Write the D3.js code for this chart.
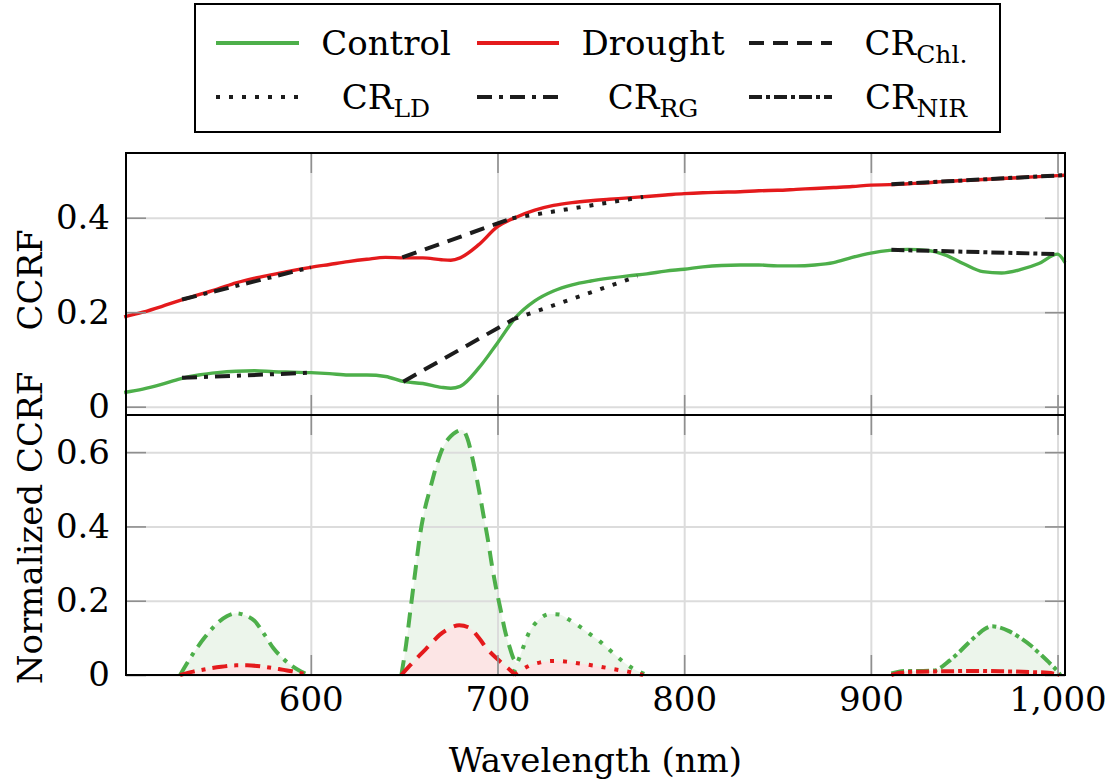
<!DOCTYPE html>
<html>
<head>
<meta charset="utf-8">
<script src="https://cdn.jsdelivr.net/npm/d3@7"></script>
<style>
  body { margin: 0; background: #fff; }
</style>
</head>
<body>
<div id="chart"></div>
<script>

// ---- values ----
let wavelengths = [500,510,520,530,540,550,560,570,580,590,600,610,620,630,640,650,660,670,675,680,
  690,700,710,720,730,740,750,760,770,780,790,800,810,820,830,840,850,860,870,880,890,900,
  910,920,930,940,950,960,970,980,990,1000,1004]

let control = [0.030,0.037,0.047,0.059,0.067,0.072,0.075,0.076,0.074,0.073,0.072,0.070,0.067,0.067,0.064,0.053,0.049,0.041,0.039,0.043,
  0.082,0.135,0.190,0.224,0.245,0.258,0.266,0.272,0.277,0.281,0.287,0.291,0.296,0.299,0.300,0.300,0.298,0.298,0.300,0.305,0.316,0.325,
  0.331,0.333,0.331,0.321,0.302,0.286,0.283,0.290,0.303,0.323,0.305]

let drought = [0.190,0.200,0.212,0.225,0.237,0.249,0.262,0.272,0.280,0.288,0.295,0.301,0.307,0.312,0.316,0.315,0.315,0.311,0.310,0.315,
  0.343,0.381,0.401,0.416,0.426,0.432,0.436,0.439,0.442,0.445,0.448,0.451,0.453,0.454,0.455,0.457,0.458,0.460,0.462,0.464,0.466,0.469,
  0.470,0.472,0.474,0.477,0.479,0.481,0.483,0.485,0.487,0.489,0.490]

// continuum hull segments, one per band
let bands = ["RG", "Chl", "LD", "NIR"]
let controlHullNm = [[531, 600], [649.5, 709], [709, 775], [911, 1000]]
let controlHullVal = [[0.061, 0.072], [0.053, 0.186], [0.186, 0.276], [0.332, 0.323]]
let droughtHullNm = [[531, 600], [649, 708], [708, 778], [911, 1003]]
let droughtHullVal = [[0.227, 0.295], [0.316, 0.399], [0.399, 0.444], [0.471, 0.490]]

// normalized CCRF per band [nm, value]
let normControlRG = [[530,0],[537,0.058],[543,0.100],[549,0.135],[555,0.158],[560,0.166],[565,0.160],[570,0.145],[575,0.110],[580,0.072],[585,0.045],[590,0.024],[595,0.009],[599,0]]
let normDroughtRG = [[530,0],[537,0.009],[544,0.016],[552,0.022],[560,0.026],[566,0.026],[575,0.022],[583,0.016],[590,0.010],[599,0]]
let normControlChl = [[648.5,0],[651,0.080],[653,0.160],[656,0.280],[658.5,0.377],[661,0.445],[664,0.503],[668,0.575],[671,0.615],[675,0.643],[678,0.655],[681,0.660],[684,0.635],[687,0.574],[690,0.500],[692.5,0.430],[695,0.360],[697,0.296],[699,0.240],[701.5,0.180],[704,0.120],[706.5,0.075],[708.5,0.045],[711,0.030]]
let normDroughtChl = [[648.5,0],[653,0.025],[658.5,0.054],[664,0.082],[669,0.108],[674.5,0.126],[679.5,0.134],[685,0.127],[690,0.100],[694,0.073],[699.5,0.045],[704,0.025],[707,0.012],[709.5,0]]
let normControlLD = [[708.5,0.005],[712,0.050],[717,0.115],[722,0.148],[728,0.164],[733,0.163],[738,0.150],[743,0.134],[749,0.112],[755,0.090],[761,0.063],[767,0.037],[773,0.016],[780,0]]
let normDroughtLD = [[709,0],[713,0.014],[717,0.025],[723,0.034],[730,0.038],[737,0.036],[744,0.031],[752,0.025],[762,0.016],[770,0.009],[778,0]]
let normControlNIR = [[911,0.004],[915,0.009],[920,0.011],[928,0.011],[934,0.012],[938,0.022],[942,0.038],[947,0.060],[952,0.085],[957,0.108],[961,0.124],[965,0.131],[969,0.128],[974,0.118],[980,0.100],[986,0.078],[991,0.055],[996,0.031],[1000,0.010],[1001.5,0]]
let normDroughtNIR = [[911,0],[916,0.006],[925,0.009],[940,0.010],[955,0.011],[970,0.010],[985,0.008],[995,0.006],[1001,0]]

let xTicks = [600, 700, 800, 900, 1000]
let yTopTicks = [0, 0.2, 0.4]
let yBotTicks = [0, 0.2, 0.4, 0.6]

let legendLabels = ["Control", "Drought", "CR", "CR", "CR", "CR"]
let legendSubs = ["", "", "Chl.", "LD", "RG", "NIR"]
let legendBand = ["", "", "Chl", "LD", "RG", "NIR"]

// ---- layout ----
let width = 1106
let height = 781
let left = 126, right = 1065
let topY0 = 153, midY = 415, botY1 = 675
let font = "'DejaVu Serif', serif"
let fs = 34

let green = "#4daf4a"
let red = "#e41a1c"
let hullColor = "#1c1c1c"
let dashFor = {RG: "15,7,4,7", Chl: "15,9", LD: "4,9", NIR: "13,4,4,4"}

let x = d3.scaleLinear().domain([501, 1004]).range([left, right])
let yTop = d3.scaleLinear().domain([-0.0176, 0.537]).range([midY, topY0])
let yBot = d3.scaleLinear().domain([0, 0.70]).range([botY1, midY])

let svg = d3.select("#chart").append("svg")
  .attr("width", width)
  .attr("height", height)
  .style("font-family", font)

let yFmt = function(d){ return d === 0 ? "0" : d3.format(".1f")(d) }

function drawGrid(y, ticks, y0, y1) {
  let g = svg.append("g")
  g.append("g").attr("transform", `translate(0,${y1})`)
    .call(d3.axisBottom(x).tickValues(xTicks).tickSize(-(y1 - y0)).tickFormat(""))
  g.append("g").attr("transform", `translate(${left},0)`)
    .call(d3.axisLeft(y).tickValues(ticks).tickSize(-(right - left)).tickFormat(""))
  g.selectAll(".domain").remove()
  g.selectAll(".tick line").attr("stroke", "#dcdcdc").attr("stroke-width", 2)
}

function drawTicks(y, ticks, y0, y1) {
  let g = svg.append("g")
  g.append("g").attr("transform", `translate(0,${y1})`)
    .call(d3.axisBottom(x).tickValues(xTicks).tickSize(-20).tickFormat(""))
  g.append("g").attr("transform", `translate(0,${y0})`)
    .call(d3.axisTop(x).tickValues(xTicks).tickSize(-20).tickFormat(""))
  g.append("g").attr("transform", `translate(${left},0)`)
    .call(d3.axisLeft(y).tickValues(ticks).tickSize(-20).tickFormat(""))
  g.append("g").attr("transform", `translate(${right},0)`)
    .call(d3.axisRight(y).tickValues(ticks).tickSize(-20).tickFormat(""))
  g.selectAll(".domain").remove()
  g.selectAll(".tick line").attr("stroke", "#8f8f8f").attr("stroke-width", 1.6)

  // labels on the left
  let lab = svg.append("g").attr("transform", `translate(${left},0)`)
    .call(d3.axisLeft(y).tickValues(ticks).tickSize(0).tickPadding(16).tickFormat(yFmt))
  lab.attr("font-family", null).attr("font-size", fs)
  lab.select(".domain").remove()
  lab.selectAll("text").attr("fill", "#000")
}

// ---- bottom panel fills (under the grid) ----
let area = d3.area()
  .x(function(d){ return x(d[0]) })
  .y0(yBot(0))
  .y1(function(d){ return yBot(d[1]) })
  .curve(d3.curveMonotoneX)

let normControl = [normControlRG, normControlChl, normControlLD, normControlNIR]
let normDrought = [normDroughtRG, normDroughtChl, normDroughtLD, normDroughtNIR]

normControl.forEach(function(d){
  svg.append("path").datum(d).attr("d", area).attr("fill", "#ecf5eb")
})
normDrought.forEach(function(d){
  svg.append("path").datum(d).attr("d", area).attr("fill", "#fce5e5")
})

drawGrid(yTop, yTopTicks, topY0, midY)
drawGrid(yBot, yBotTicks, midY, botY1)

// ---- top panel: curves ----
let topLine = d3.line()
  .x(function(d){ return x(d[0]) })
  .y(function(d){ return yTop(d[1]) })
  .curve(d3.curveMonotoneX)

svg.append("path")
  .datum(d3.zip(wavelengths, control))
  .attr("d", topLine)
  .attr("fill", "none").attr("stroke", green).attr("stroke-width", 3.4)

svg.append("path")
  .datum(d3.zip(wavelengths, drought))
  .attr("d", topLine)
  .attr("fill", "none").attr("stroke", red).attr("stroke-width", 3.4)

// continuum hulls
let hullLine = d3.line()
  .x(function(d){ return x(d[0]) })
  .y(function(d){ return yTop(d[1]) })

bands.forEach(function(b, i){
  [[controlHullNm, controlHullVal], [droughtHullNm, droughtHullVal]].forEach(function(h){
    svg.append("path")
      .datum(d3.zip(h[0][i], h[1][i]))
      .attr("d", hullLine)
      .attr("fill", "none")
      .attr("stroke", hullColor)
      .attr("stroke-width", 4)
      .attr("stroke-dasharray", dashFor[b])
  })
})

// ---- bottom panel lines ----
let botLine = d3.line()
  .x(function(d){ return x(d[0]) })
  .y(function(d){ return yBot(d[1]) })
  .curve(d3.curveMonotoneX)

normControl.forEach(function(d, i){
  svg.append("path").datum(d).attr("d", botLine)
    .attr("fill", "none").attr("stroke", green).attr("stroke-width", 4)
    .attr("stroke-dasharray", dashFor[bands[i]])
})
normDrought.forEach(function(d, i){
  svg.append("path").datum(d).attr("d", botLine)
    .attr("fill", "none").attr("stroke", red).attr("stroke-width", 4)
    .attr("stroke-dasharray", dashFor[bands[i]])
})

// ticks + borders on top of everything
drawTicks(yTop, yTopTicks, topY0, midY)
drawTicks(yBot, yBotTicks, midY, botY1)

svg.append("rect").attr("x", left).attr("y", topY0).attr("width", right - left).attr("height", midY - topY0)
  .attr("fill", "none").attr("stroke", "#000").attr("stroke-width", 2)
svg.append("rect").attr("x", left).attr("y", midY).attr("width", right - left).attr("height", botY1 - midY)
  .attr("fill", "none").attr("stroke", "#000").attr("stroke-width", 2)

// x tick labels
let xLab = svg.append("g").attr("transform", `translate(0,${botY1})`)
  .call(d3.axisBottom(x).tickValues(xTicks).tickSize(0).tickPadding(12).tickFormat(d3.format(",")))
xLab.attr("font-family", null).attr("font-size", fs)
xLab.select(".domain").remove()
xLab.selectAll("text").attr("fill", "#000")

// axis titles
svg.append("text")
  .attr("x", (left + right) / 2).attr("y", 772)
  .attr("text-anchor", "middle").attr("font-size", fs)
  .text("Wavelength (nm)")

svg.append("text")
  .attr("transform", "translate(42,280) rotate(-90)")
  .attr("text-anchor", "middle").attr("font-size", fs)
  .text("CCRF")

svg.append("text")
  .attr("transform", "translate(42,528) rotate(-90)")
  .attr("text-anchor", "middle").attr("font-size", fs)
  .text("Normalized CCRF")

// ---- legend ----
svg.append("rect")
  .attr("x", 195).attr("y", 4).attr("width", 805).attr("height", 128)
  .attr("fill", "#fff").attr("stroke", "#000").attr("stroke-width", 2)

let colX = [[216, 299, 386], [477, 559, 653], [749, 832, 916]]
let rowY = [43, 97]

legendLabels.forEach(function(lbl, i){
  let c = colX[i % 3]
  let r = rowY[Math.floor(i / 3)]
  let col = i === 0 ? green : (i === 1 ? red : hullColor)
  svg.append("line")
    .attr("x1", c[0]).attr("x2", c[1]).attr("y1", r).attr("y2", r)
    .attr("stroke", col).attr("stroke-width", 4)
    .attr("stroke-dasharray", legendBand[i] ? dashFor[legendBand[i]] : null)
  let t = svg.append("text")
    .attr("x", c[2]).attr("y", r + 12)
    .attr("text-anchor", "middle").attr("font-size", fs)
  t.append("tspan").text(lbl)
  if (legendSubs[i]) {
    t.append("tspan").attr("dy", 8).attr("font-size", 25).text(legendSubs[i])
  }
})

</script>
</body>
</html>
